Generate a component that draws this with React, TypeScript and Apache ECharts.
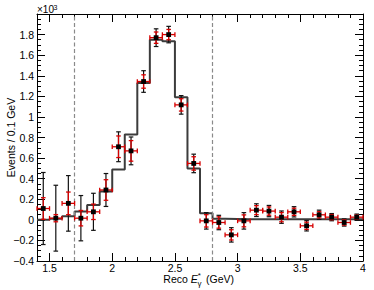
import React, { useEffect, useRef } from "react";
import * as echarts from "echarts";

// bin centres (GeV)
const binCenters = [1.45, 1.55, 1.65, 1.75, 1.85, 1.95, 2.05, 2.15, 2.25, 2.35, 2.45, 2.55, 2.65, 2.75, 2.85, 2.95, 3.05, 3.15, 3.25, 3.35, 3.45, 3.55, 3.65, 3.75, 3.85, 3.95];
// expected histogram (x10^3 events / 0.1 GeV)
const mcValues = [0.0, 0.01, 0.036, 0.08, 0.145, 0.275, 0.49, 0.83, 1.33, 1.75, 1.735, 1.19, 0.5, 0.065, 0.01, 0.008, 0.005, 0.005, 0.005, 0.005, 0.005, 0.005, 0.005, 0.005, 0.005, 0.005];
// measured points
const dataValues = [0.11, 0.016, 0.16, 0.016, 0.078, 0.29, 0.71, 0.67, 1.344, 1.77, 1.8, 1.117, 0.548, -0.01, -0.026, -0.146, -0.01, 0.094, 0.085, 0.026, 0.078, -0.058, 0.049, 0.026, -0.026, 0.026];
const totalErrors = [0.35, 0.32, 0.27, 0.22, 0.18, 0.16, 0.145, 0.135, 0.105, 0.086, 0.08, 0.09, 0.09, 0.08, 0.07, 0.07, 0.08, 0.062, 0.055, 0.06, 0.05, 0.05, 0.045, 0.035, 0.035, 0.03];
const statErrors = [0.105, 0.035, 0.11, 0.075, 0.075, 0.1, 0.105, 0.1, 0.065, 0.055, 0.05, 0.06, 0.065, 0.06, 0.055, 0.05, 0.058, 0.044, 0.04, 0.045, 0.035, 0.035, 0.03, 0.025, 0.025, 0.02];
const dashedCuts = [1.7, 2.8];
const xTickLabels = ["1.5", "2", "2.5", "3", "3.5", "4"];

const BIN = 0.1;
const FONT = "'Liberation Sans', Arial, Helvetica, sans-serif";
const RED = "#d60000";

export default function App() {
  const ref = useRef<HTMLDivElement>(null);
  useEffect(() => {
    if (!ref.current) return;
    const chart = echarts.init(ref.current, undefined, { renderer: "svg" });

    const histData: number[][] = binCenters.map((c, i) => [c - BIN / 2, mcValues[i]]);
    histData.push([binCenters[binCenters.length - 1] + BIN / 2, mcValues[mcValues.length - 1]]);
    const pointData = binCenters.map((c, i) => [c, dataValues[i], totalErrors[i], statErrors[i]]);

    const axisLineStyle = { color: "#000", width: 1 };
    const xLabelFmt = (v: number) => {
      const s = String(Math.round(v * 100) / 100);
      return xTickLabels.includes(s) ? s : "";
    };
    const yLabelFmt = (v: number) => {
      const r = Math.round(v * 100) / 100;
      if (Math.abs(r - 2) < 1e-9) return "";
      return String(r).replace("-", "\u2212");
    };
    const xBase = {
      type: "value",
      min: 1.4,
      max: 4.0,
      splitNumber: 5,
      axisLine: { show: true, onZero: false, lineStyle: axisLineStyle },
      axisTick: { show: true, inside: true, length: 8, lineStyle: { color: "#000" } },
      minorTick: { show: true, splitNumber: 5, length: 4, lineStyle: { color: "#000" } },
      splitLine: { show: false },
    };
    const yBase = {
      type: "value",
      min: -0.4,
      max: 2.0,
      interval: 0.2,
      axisLine: { show: true, onZero: false, lineStyle: axisLineStyle },
      axisTick: { show: true, inside: true, length: 8, lineStyle: { color: "#000" } },
      minorTick: { show: true, splitNumber: 4, length: 4, lineStyle: { color: "#000" } },
      splitLine: { show: false },
    };

    const option: any = {
      animation: false,
      backgroundColor: "#fff",
      grid: { left: 37, right: 11, top: 14, bottom: 29, containLabel: false },
      xAxis: [
        {
          ...xBase,
          position: "bottom",
          axisLabel: { show: true, formatter: xLabelFmt, color: "#000", fontSize: 10.5, fontFamily: FONT, margin: 1 },
        },
        { ...xBase, position: "top", axisLabel: { show: false } },
      ],
      yAxis: [
        {
          ...yBase,
          position: "left",
          axisLabel: { show: true, formatter: yLabelFmt, color: "#000", fontSize: 10.5, fontFamily: FONT, margin: 3 },
        },
        { ...yBase, position: "right", axisLabel: { show: false } },
      ],
      series: [
        {
          type: "line",
          step: "end",
          data: histData,
          symbol: "none",
          lineStyle: { color: "#3c3c3c", width: 2 },
          z: 2,
          markLine: {
            silent: true,
            symbol: ["none", "none"],
            label: { show: false },
            lineStyle: { color: "#8a8a8a", width: 1.2, type: [4, 2.5] },
            data: dashedCuts.map((x) => ({ xAxis: x })),
          },
        },
        {
          type: "custom",
          data: pointData,
          z: 5,
          renderItem: (_params: any, api: any) => {
            const x = api.value(0);
            const y = api.value(1);
            const et = api.value(2);
            const es = api.value(3);
            const c = api.coord([x, y]);
            const tT = api.coord([x, y + et]);
            const tB = api.coord([x, y - et]);
            const sT = api.coord([x, y + es]);
            const sB = api.coord([x, y - es]);
            const hl = api.coord([x - BIN / 2, y]);
            const hr = api.coord([x + BIN / 2, y]);
            const cap = 2.3;
            const ln = (x1: number, y1: number, x2: number, y2: number, stroke: string, w: number) => ({
              type: "line",
              shape: { x1, y1, x2, y2 },
              style: { stroke, lineWidth: w },
            });
            return {
              type: "group",
              children: [
                ln(c[0], tT[1], c[0], tB[1], "#111", 1.2),
                ln(c[0] - cap, tT[1], c[0] + cap, tT[1], "#111", 1.2),
                ln(c[0] - cap, tB[1], c[0] + cap, tB[1], "#111", 1.2),
                ln(c[0], sT[1], c[0], sB[1], RED, 1.3),
                ln(c[0] - cap, sT[1], c[0] + cap, sT[1], RED, 1.3),
                ln(c[0] - cap, sB[1], c[0] + cap, sB[1], RED, 1.3),
                ln(hl[0], c[1], hr[0], c[1], RED, 1.3),
                ln(hl[0], c[1] - cap, hl[0], c[1] + cap, RED, 1.3),
                ln(hr[0], c[1] - cap, hr[0], c[1] + cap, RED, 1.3),
                { type: "rect", shape: { x: c[0] - 2.4, y: c[1] - 2.4, width: 4.8, height: 4.8 }, style: { fill: "#000" } },
              ],
            };
          },
        },
      ],
      graphic: [
        {
          type: "text",
          x: 11.4,
          y: 137.5,
          rotation: Math.PI / 2,
          style: { text: "Events / 0.1 GeV", font: `10.5px ${FONT}`, fill: "#000", align: "center", verticalAlign: "middle" },
        },
        {
          type: "text",
          x: 163.3,
          y: 279,
          style: {
            text: "Reco {e|E}",
            font: `10.5px ${FONT}`,
            fill: "#000",
            align: "left",
            verticalAlign: "middle",
            rich: { e: { fontStyle: "italic", fontSize: 10.5, fontFamily: FONT, fill: "#000" } },
          },
        },
        { type: "text", x: 197.8, y: 275.5, style: { text: "*", font: `8px ${FONT}`, fill: "#000", align: "left", verticalAlign: "middle" } },
        { type: "text", x: 197.5, y: 283.3, style: { text: "\u03b3", font: `8px ${FONT}`, fill: "#000", align: "left", verticalAlign: "middle" } },
        { type: "text", x: 206, y: 279, style: { text: "(GeV)", font: `10.5px ${FONT}`, fill: "#000", align: "left", verticalAlign: "middle" } },
        { type: "text", x: 37, y: 9.7, style: { text: "\u00d710", font: `10px ${FONT}`, fill: "#000", align: "left", verticalAlign: "middle" } },
        { type: "text", x: 53.5, y: 7, style: { text: "3", font: `7px ${FONT}`, fill: "#000", align: "left", verticalAlign: "middle" } },
      ],
    };
    chart.setOption(option);
    return () => chart.dispose();
  }, []);
  return <div ref={ref} style={{ position: "fixed", left: 0, top: 0, width: 374, height: 290, background: "#fff" }} />;
}
